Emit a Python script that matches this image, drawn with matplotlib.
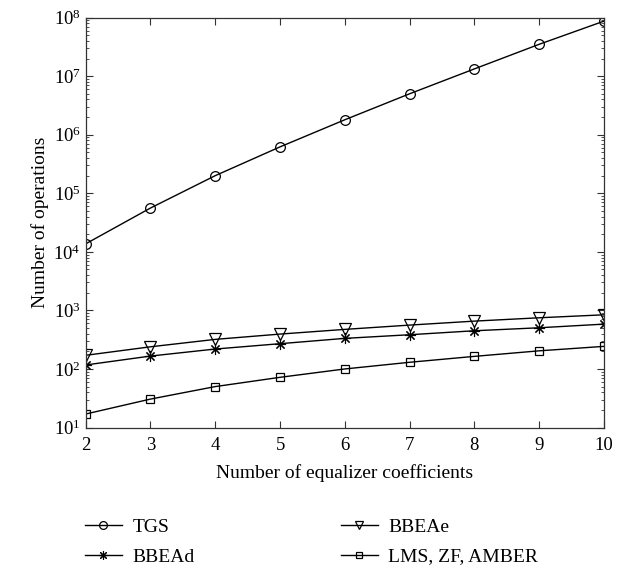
import matplotlib
matplotlib.use("Agg")
import matplotlib.pyplot as plt
from matplotlib.ticker import LogLocator, NullFormatter

plt.rcParams['font.family'] = ['Liberation Serif', 'DejaVu Serif']
plt.rcParams['mathtext.fontset'] = 'custom'
plt.rcParams['mathtext.rm'] = 'Liberation Serif'
plt.rcParams['mathtext.it'] = 'Liberation Serif:italic'

# values
coeffs = [2, 3, 4, 5, 6, 7, 8, 9, 10]
tgs = [1.37e4, 5.6e4, 2.0e5, 6.2e5, 1.8e6, 5.0e6, 1.33e7, 3.5e7, 8.7e7]
bbeae = [171, 239, 320, 394, 474, 561, 656, 748, 841]
bbead = [117, 166, 219, 270, 333, 384, 449, 505, 583]
lms = [17, 30.6, 50, 72, 100, 130, 164, 204, 243]

fig = plt.figure(figsize=(6.27, 5.67), dpi=100)
ax = fig.add_axes([0.1367, 0.246, 0.8266, 0.723])

lw = 1.0
h1, = ax.plot(coeffs, tgs, color='black', lw=lw, marker='o', ms=7,
              mfc='none', mec='black', mew=0.9, label='TGS')
h2, = ax.plot(coeffs, bbead, color='black', lw=lw, marker=(8, 2, 0), ms=8,
              mec='black', mew=0.8, label='BBEAd')
h3, = ax.plot(coeffs, bbeae, color='black', lw=lw, marker='v', ms=8,
              mfc='none', mec='black', mew=0.9, label='BBEAe')
h4, = ax.plot(coeffs, lms, color='black', lw=lw, marker='s', ms=5.5,
              mfc='none', mec='black', mew=0.9, label='LMS, ZF, AMBER')

ax.set_yscale('log')
ax.set_xlim(2, 10)
ax.set_ylim(1e1, 1e8)
ax.set_xticks(coeffs)
ax.yaxis.set_major_locator(LogLocator(base=10, numticks=10))
ax.yaxis.set_minor_locator(LogLocator(base=10, subs=range(2, 10), numticks=20))
ax.yaxis.set_minor_formatter(NullFormatter())
ax.tick_params(which='both', direction='in', top=True, right=True,
               labelsize=13.5, color='#333333')
ax.tick_params(which='major', length=5, width=0.8)
ax.tick_params(which='minor', length=2.5, width=0.6)
ax.tick_params(axis='x', pad=7)
for s in ax.spines.values():
    s.set_linewidth(0.9)
    s.set_color('#333333')

ax.set_xlabel('Number of equalizer coefficients', fontsize=14, labelpad=7)
ax.set_ylabel('Number of operations', fontsize=14, labelpad=3)

fig.legend(handles=[h1, h2, h3, h4], ncol=2, frameon=False, fontsize=14,
           loc='upper left', bbox_to_anchor=(0.1356, 0.086),
           handlelength=1.9, handletextpad=0.55, columnspacing=7.5,
           labelspacing=0.62, borderaxespad=0, borderpad=0, markerscale=0.8)

fig.savefig('out.png', dpi=100)
